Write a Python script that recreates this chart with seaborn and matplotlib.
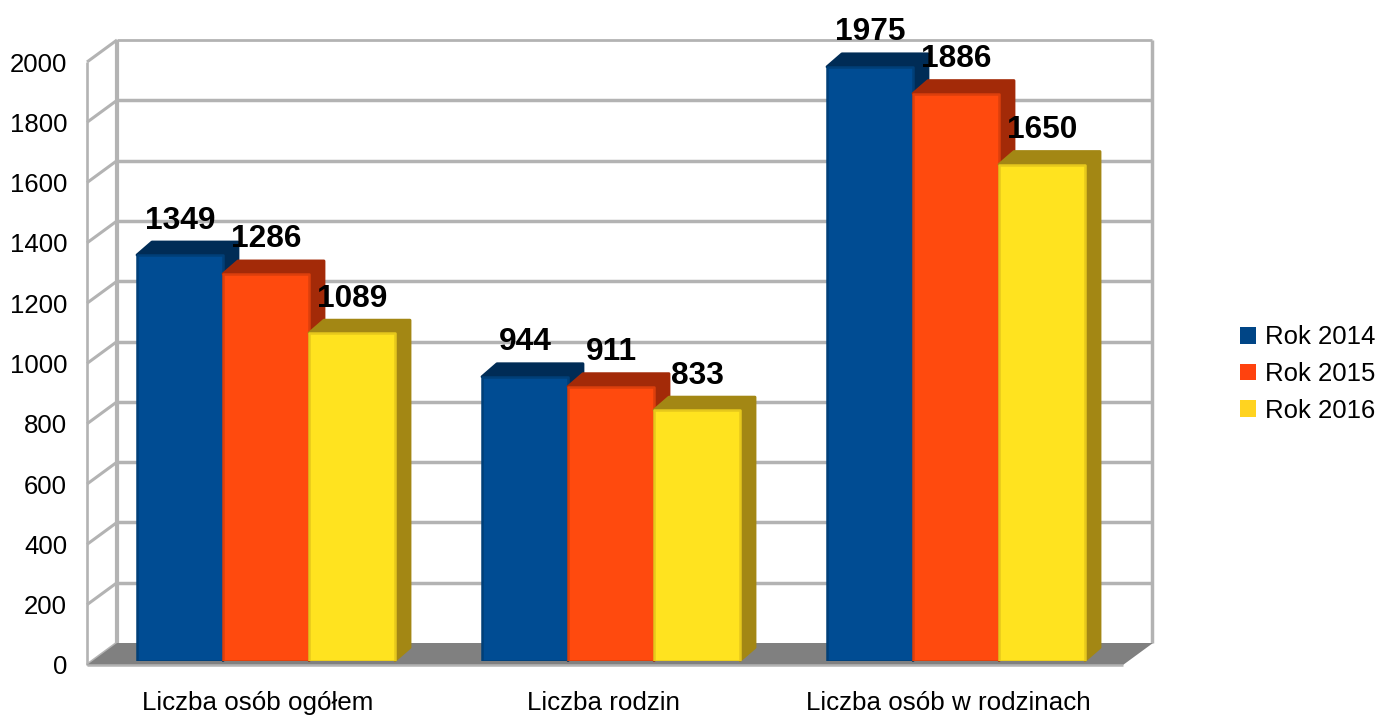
import matplotlib
matplotlib.use('Agg')
import numpy as np
import pandas as pd
import matplotlib.pyplot as plt
import seaborn as sns
from matplotlib.patches import Polygon, Patch

categories = ['Liczba osób ogółem', 'Liczba rodzin', 'Liczba osób w rodzinach']
years = ['Rok 2014', 'Rok 2015', 'Rok 2016']
rok_2014 = [1349, 944, 1975]
rok_2015 = [1286, 911, 1886]
rok_2016 = [1089, 833, 1650]
y_ticks = [0, 200, 400, 600, 800, 1000, 1200, 1400, 1600, 1800, 2000]

front_colors = ['#004c93', '#ff4a0e', '#ffe31f']
edge_colors = ['#003f78', '#dc3f0c', '#e6c81c']
side_colors = ['#002c56', '#a32a08', '#a38714']
legend_colors = ['#004586', '#ff420e', '#ffd320']
wall_color = '#b3b3b3'
floor_color = '#808080'

W, H = 1378, 715

def px_rect(left, right, bottom, top):
    # pixel box (y down) to figure fractions
    return [left / W, 1 - bottom / H, (right - left) / W, (bottom - top) / H]

df = pd.DataFrame({'category': categories * 3,
                   'year': [y for y in years for _ in categories],
                   'value': rok_2014 + rok_2015 + rok_2016})

sns.set_style('white')
plt.rcParams['font.family'] = ['Liberation Sans', 'DejaVu Sans']

fig = plt.figure(figsize=(W / 100, H / 100), dpi=100)

# chart box: walls, floor and the axis labels
ax_bg = fig.add_axes(px_rect(87, 1123, 665, 62))
ax_bg.set_xlim(-0.5, 2.5)
ax_bg.set_ylim(0, 2000)
for s in ax_bg.spines.values():
    s.set_visible(False)
ax_bg.set_xticks(np.arange(len(categories)) - 1.7 / 345, categories, fontsize=18.7)
ax_bg.set_yticks(y_ticks)
ax_bg.tick_params(axis='both', length=0, colors='black')
ax_bg.tick_params(axis='y', pad=14.3, labelsize=18.5)
ax_bg.tick_params(axis='x', pad=18.6)

# depth of the box in data units
dx = 30 / (1036 / 3)
dy = 22 / (603 / 2000)
x0, x1 = -0.5, 2.5
xr = x1 + dx - 1 / 345
line = dict(color=wall_color, clip_on=False, solid_capstyle='butt')

ax_bg.add_patch(Polygon([(x0, 0), (x1, 0), (x1 + dx, dy), (x0 + dx, dy)], closed=True,
                        facecolor=floor_color, edgecolor='none', clip_on=False, zorder=1))
ax_bg.plot([x0, x1], [0, 0], lw=1.8, zorder=1.5, **line)
for v in y_ticks:
    if v > 0:
        ax_bg.plot([x0 + dx, xr], [v + dy, v + dy], lw=2.5 if v < 2000 else 2.0, zorder=0.5, **line)
    ax_bg.plot([x0, x0 + dx], [v, v + dy], lw=2.2, zorder=0.5, **line)
ax_bg.plot([x0, x0], [0, 2000], lw=1.9, zorder=0.5, **line)
ax_bg.plot([x0 + dx, x0 + dx], [dy, 2000 + dy], lw=3.0, zorder=0.6, **line)
ax_bg.plot([xr, xr], [dy, 2000 + dy], lw=2.5, zorder=0.6, **line)

# bars
ax = fig.add_axes(px_rect(93.5, 1128.5, 660.5, 59.3))
ax.patch.set_visible(False)
sns.barplot(data=df, x='category', y='value', hue='year', order=categories, hue_order=years,
            palette=front_colors, saturation=1, width=0.748, gap=0, legend=False, ax=ax)
ax.set_xlim(-0.5, 2.5)
ax.set_ylim(0, 2000)
ax.axis('off')

bx = 15 / 345
by = 13 / (601.2 / 2000)
for h, container in enumerate(ax.containers):
    for bar in container:
        l, r, t = bar.get_x(), bar.get_x() + bar.get_width(), bar.get_height()
        bar.set_edgecolor(edge_colors[h])
        bar.set_linewidth(1.8)
        bar.set_joinstyle('round')
        bar.set_zorder(3 + 2 * h)
        ax.add_patch(Polygon([(l, t), (l + bx, t + by), (r + bx, t + by), (r + bx, by), (r, 0), (r, t)],
                             closed=True, facecolor=side_colors[h], edgecolor=side_colors[h],
                             linewidth=2.0, joinstyle='round', clip_on=False, zorder=2 + 2 * h))
    labels = ax.bar_label(container, fontsize=22.8, fontweight='bold', padding=14, color='black')
    for lab in labels:
        lab.set_zorder(20)

handles = [Patch(facecolor=c, edgecolor='none') for c in legend_colors]
fig.legend(handles, years, loc='center left', bbox_to_anchor=(1232 / W, 1 - 374 / H), frameon=False,
           fontsize=18.5, labelcolor='black', handlelength=0.63, handleheight=0.63, handletextpad=0.37,
           labelspacing=0.5, borderpad=0.3, borderaxespad=0)

fig.savefig('out.png', dpi=100)
